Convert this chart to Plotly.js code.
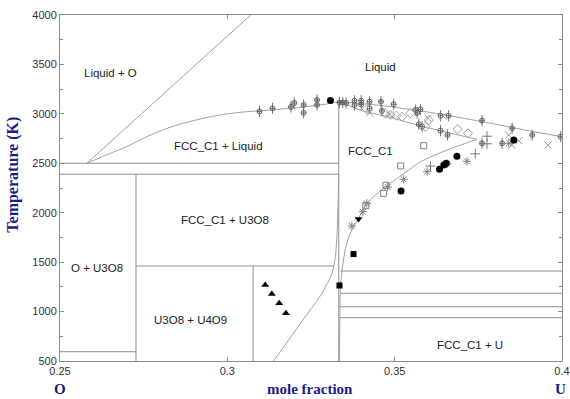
<!DOCTYPE html>
<html>
<head>
<meta charset="utf-8">
<script src="https://cdn.plot.ly/plotly-3.0.1.min.js"></script>
<style>html,body{margin:0;padding:0;background:#fff;}#chart{width:570px;height:399px;}</style>
</head>
<body>
<div id="chart"></div>
<script>
// ---------- phase boundary data (x = mole fraction U, T in K) ----------
const liqO_x = [0.2580, 0.3070];
const liqO_T = [2500, 4000];

const liquidusL_x = [0.2580, 0.2650, 0.2699, 0.2749, 0.2799, 0.2849, 0.2899, 0.2949, 0.2999, 0.3048, 0.3098, 0.3198, 0.3298, 0.3333];
const liquidusL_T = [2500, 2601, 2668, 2753, 2827, 2887, 2931, 2971, 2999, 3019, 3032, 3059, 3100, 3125];

const liquidusR_x = [0.3333, 0.3450, 0.3600, 0.3750, 0.3900, 0.4000];
const liquidusR_T = [3125, 3088, 3018, 2928, 2830, 2768];

const solidus_x = [0.3333, 0.3397, 0.3497, 0.3567, 0.3647, 0.3746];
const solidus_T = [3125, 3039, 2955, 2887, 2820, 2743];

const fccBound_x = [0.3746, 0.3657, 0.3577, 0.3522, 0.3472, 0.3417, 0.3392, 0.3367, 0.3352, 0.3343, 0.3338, 0.3336, 0.3335];
const fccBound_T = [2743, 2634, 2516, 2382, 2263, 2095, 1943, 1792, 1623, 1421, 1252, 900, 500];

const u4o9Bound_x = [0.3138, 0.3183, 0.3233, 0.3283, 0.3313, 0.3323, 0.3328, 0.3331, 0.3333];
const u4o9Bound_T = [500, 712, 948, 1185, 1387, 1555, 1792, 2129, 2390];

// straight boundaries (segments separated by null)
const tieLines_x = [0.25, 0.3333, null, 0.25, 0.3333, null, 0.2727, 0.3318, null, 0.25, 0.2727, null,
                    0.3338, 0.4, null, 0.3338, 0.4, null, 0.3336, 0.4, null, 0.3336, 0.4];
const tieLines_T = [2500, 2500, null, 2389, 2389, null, 1461, 1461, null, 594, 594, null,
                    1410, 1410, null, 1185, 1185, null, 1049, 1049, null, 938, 938];

const verticals_x = [0.2727, 0.2727, null, 0.3077, 0.3077, null, 0.3333, 0.3333];
const verticals_T = [2389, 500, null, 1461, 500, null, 3125, 500];

// ---------- experimental points ----------
const thermo_x = [0.3096, 0.3135, 0.3190, 0.3200, 0.3228, 0.3228, 0.3268, 0.3268, 0.3335, 0.3345, 0.3355, 0.3380, 0.3380, 0.3400, 0.3400, 0.3425, 0.3425, 0.3459, 0.3497, 0.3462, 0.3562, 0.3577, 0.3567, 0.3572, 0.3582, 0.3637, 0.3661, 0.3637, 0.3658, 0.3761, 0.3851, 0.3911, 0.3996, 0.3821, 0.3761];
const thermo_T = [3025, 3056, 3070, 3110, 3090, 3010, 3140, 3090, 3115, 3115, 3110, 3133, 3090, 3133, 3095, 3123, 3056, 3123, 3097, 3030, 3039, 3045, 3010, 2894, 2870, 2981, 2981, 2830, 2786, 2931, 2854, 2786, 2769, 2702, 2702];

const diamond_x = [0.3417, 0.3472, 0.3487, 0.3505, 0.3522, 0.3547, 0.3602, 0.3592, 0.3688, 0.3719];
const diamond_T = [3046, 3006, 2989, 2981, 2971, 3006, 2938, 2870, 2844, 2803];

const cross_x = [0.3425, 0.3485, 0.3600, 0.3645, 0.3841, 0.3871, 0.3850, 0.3958];
const cross_T = [3010, 2990, 2955, 2975, 2786, 2728, 2685, 2685];

const plus_x = [0.3607, 0.3741, 0.3776, 0.3776];
const plus_T = [2472, 2596, 2697, 2774];

const aster_x = [0.3372, 0.3405, 0.3417, 0.3479, 0.3527, 0.3597, 0.3657, 0.3716, 0.3841];
const aster_T = [1866, 2010, 2095, 2260, 2338, 2415, 2493, 2520, 2702];

const openSq_x = [0.3587, 0.3518, 0.3474, 0.3467, 0.3414];
const openSq_T = [2678, 2473, 2277, 2196, 2071];

const dot_x = [0.3308, 0.3519, 0.3634, 0.3647, 0.3654, 0.3686, 0.3856];
const dot_T = [3135, 2220, 2439, 2483, 2500, 2571, 2736];

const sq_x = [0.3377, 0.3335];
const sq_T = [1582, 1264];

const triUp_x = [0.3113, 0.3133, 0.3155, 0.3175];
const triUp_T = [1269, 1178, 1084, 983];

const triDown_x = [0.3392];
const triDown_T = [1937];

// ---------- labels ----------
const regionText = ['Liquid + O', 'Liquid', 'FCC_C1 + Liquid', 'FCC_C1', 'FCC_C1 + U3O8', 'O + U3O8', 'U3O8 + U4O9', 'FCC_C1 + U'];
const regionX = [0.2650, 0.3457, 0.2973, 0.3427, 0.2994, 0.2611, 0.2889, 0.3726];
const regionT = [3413, 3474, 2675, 2624, 1926, 1441, 915, 662];

const xTicks = [0.25, 0.3, 0.35, 0.4];
const xTickText = ['0.25', '0.3', '0.35', '0.4'];

const curveColor = '#a0a0a0';
const straightColor = '#8f8f8f';
function line(x, y, color, smooth) {
  return {x: x, y: y, type: 'scatter', mode: 'lines', hoverinfo: 'skip', showlegend: false,
          line: {color: color, width: 1, shape: smooth ? 'spline' : 'linear', smoothing: 0.5}};
}
function pts(x, y, symbol, size, color, lw) {
  return {x: x, y: y, type: 'scatter', mode: 'markers', showlegend: false,
          marker: {symbol: symbol, size: size, color: color, line: {color: color, width: lw === undefined ? 1 : lw}}};
}

const traces = [
  line(tieLines_x, tieLines_T, straightColor, false),
  line(verticals_x, verticals_T, straightColor, false),
  line(liqO_x, liqO_T, curveColor, false),
  line(liquidusL_x, liquidusL_T, curveColor, true),
  line(liquidusR_x, liquidusR_T, curveColor, true),
  line(solidus_x, solidus_T, curveColor, true),
  line(fccBound_x, fccBound_T, curveColor, true),
  line(u4o9Bound_x, u4o9Bound_T, curveColor, true),
  pts(thermo_x, thermo_T, 'line-ns-open', 8, '#777777', 1),
  pts(thermo_x, thermo_T, 'circle-cross-open', 5, '#666666', 1),
  pts(diamond_x, diamond_T, 'diamond-open', 7, '#a0a0a0', 1),
  pts(cross_x, cross_T, 'x-thin-open', 7, '#999999', 1),
  pts(plus_x, plus_T, 'cross-thin-open', 7, '#777777', 1),
  pts(aster_x, aster_T, 'asterisk-open', 7, '#808080', 1),
  pts(openSq_x, openSq_T, 'square-open', 6, '#808080', 1),
  pts(dot_x, dot_T, 'circle', 7, '#000000', 0),
  pts(sq_x, sq_T, 'square', 6, '#000000', 0),
  pts(triUp_x, triUp_T, 'triangle-up', 7, '#000000', 0),
  pts(triDown_x, triDown_T, 'triangle-down', 7, '#000000', 0)
];

const annotations = regionText.map((t, i) => ({
  x: regionX[i], y: regionT[i], xref: 'x', yref: 'y', text: t, showarrow: false,
  font: {family: 'Liberation Sans, Arial, sans-serif', size: 11.5, color: '#222222'}
}));
const titleFont = {family: 'Liberation Serif, Times New Roman, serif', size: 16, color: '#1c1c88'};
const bottomFont = {family: 'Liberation Serif, Times New Roman, serif', size: 15, color: '#1c1c88'};
annotations.push({xref: 'paper', yref: 'paper', x: -0.094, y: 0.538, text: '<b>Temperature (K)</b>', textangle: -90,
  showarrow: false, font: titleFont, xanchor: 'center', yanchor: 'middle'});
annotations.push({xref: 'paper', yref: 'paper', x: 0.0, y: -0.08, text: '<b>O</b>', showarrow: false,
  font: bottomFont, xanchor: 'center', yanchor: 'middle'});
annotations.push({xref: 'paper', yref: 'paper', x: 0.997, y: -0.08, text: '<b>U</b>', showarrow: false,
  font: bottomFont, xanchor: 'center', yanchor: 'middle'});
annotations.push({xref: 'paper', yref: 'paper', x: 0.498, y: -0.08, text: '<b>mole fraction</b>', showarrow: false,
  font: bottomFont, xanchor: 'center', yanchor: 'middle'});

const axisCommon = {
  showgrid: false, zeroline: false, showline: true, linecolor: '#8c8c8c', linewidth: 1,
  mirror: 'ticks', ticks: 'inside', ticklen: 4, tickcolor: '#8c8c8c',
  tickfont: {family: 'Liberation Sans, Arial, sans-serif', size: 11, color: '#333333'}
};

const layout = {
  width: 570, height: 399,
  margin: {l: 60, r: 8, t: 15, b: 38},
  paper_bgcolor: '#ffffff', plot_bgcolor: '#ffffff',
  showlegend: false,
  xaxis: Object.assign({}, axisCommon, {range: [0.25, 0.4], tickvals: xTicks, ticktext: xTickText, ticklabelstandoff: 0}),
  yaxis: Object.assign({}, axisCommon, {range: [500, 4000], tickmode: 'linear', tick0: 500, dtick: 500,
    minor: {dtick: 250, ticks: 'inside', ticklen: 3, tickcolor: '#8c8c8c'}}),
  annotations: annotations
};

Plotly.newPlot('chart', traces, layout, {staticPlot: true, displayModeBar: false});
</script>
</body>
</html>
